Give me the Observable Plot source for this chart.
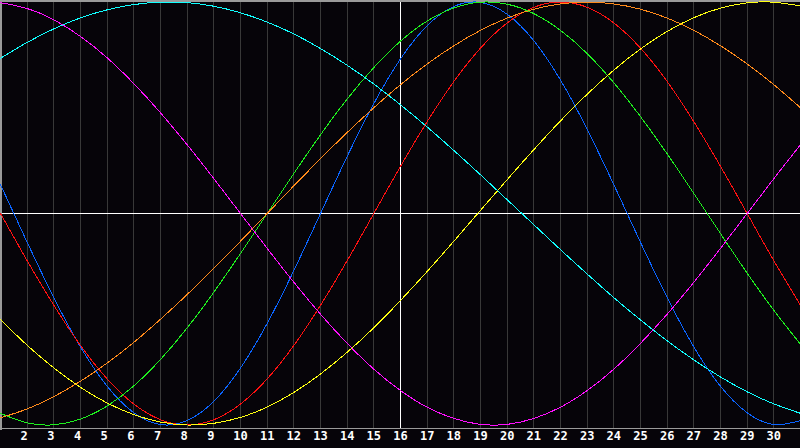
<!DOCTYPE html>
<html>
<head>
<meta charset="utf-8">
<script src="https://cdn.jsdelivr.net/npm/d3@7"></script>
<script src="https://cdn.jsdelivr.net/npm/@observablehq/plot@0.6"></script>
<style>
  html, body { margin: 0; padding: 0; background: #060409; }
  #chart svg { display: block; }
</style>
</head>
<body>
<div id="chart"></div>
<script>
// Days of the month shown on the x axis
const days = [1,2,3,4,5,6,7,8,9,10,11,12,13,14,15,16,17,18,19,20,21,22,23,24,25,26,27,28,29,30,31];
const dayLabels = [2,3,4,5,6,7,8,9,10,11,12,13,14,15,16,17,18,19,20,21,22,23,24,25,26,27,28,29,30];
const today = 16;

// Cycle values (-1 .. 1), one per day
const physical = [0.136,-0.136,-0.398,-0.631,-0.817,-0.942,-0.998,-0.979,-0.888,-0.731,-0.520,-0.270,0,0.270,0.520,0.731,0.888,0.979,0.998,0.942,0.817,0.631,0.398,0.136,-0.136,-0.398,-0.631,-0.817,-0.942,-0.998,-0.979];
const emotional = [0,-0.223,-0.434,-0.624,-0.782,-0.901,-0.975,-1,-0.975,-0.901,-0.782,-0.624,-0.434,-0.223,0,0.223,0.434,0.624,0.782,0.901,0.975,1,0.975,0.901,0.782,0.624,0.434,0.223,0,-0.223,-0.434];
const intellectual = [-0.945,-0.990,-0.999,-0.972,-0.910,-0.815,-0.690,-0.541,-0.372,-0.189,0,0.189,0.372,0.541,0.690,0.815,0.910,0.972,0.999,0.990,0.945,0.866,0.756,0.618,0.458,0.282,0.095,-0.095,-0.282,-0.458,-0.618];
const intuitive = [0.997,0.969,0.916,0.837,0.736,0.614,0.476,0.325,0.165,0,-0.165,-0.325,-0.476,-0.614,-0.736,-0.837,-0.916,-0.969,-0.997,-0.997,-0.969,-0.916,-0.837,-0.736,-0.614,-0.476,-0.325,-0.165,0,0.165,0.325];
const aesthetic = [-0.502,-0.623,-0.730,-0.822,-0.896,-0.951,-0.986,-1.000,-0.992,-0.964,-0.915,-0.846,-0.759,-0.656,-0.540,-0.411,-0.274,-0.131,0.015,0.160,0.302,0.438,0.564,0.678,0.778,0.861,0.926,0.971,0.996,0.999,0.981];
const awareness = [-0.966,-0.924,-0.866,-0.793,-0.707,-0.609,-0.5,-0.383,-0.259,-0.131,0,0.131,0.259,0.383,0.5,0.609,0.707,0.793,0.866,0.924,0.966,0.991,1,0.991,0.966,0.924,0.866,0.793,0.707,0.609,0.5];
const spiritual = [0.734,0.809,0.873,0.925,0.963,0.988,0.999,0.997,0.980,0.949,0.905,0.849,0.780,0.701,0.612,0.514,0.409,0.298,0.183,0.065,-0.053,-0.171,-0.286,-0.398,-0.503,-0.602,-0.692,-0.773,-0.843,-0.900,-0.945];

const seriesNames = ["physical","emotional","intellectual","intuitive","aesthetic","awareness","spiritual"];
const seriesValues = [physical, emotional, intellectual, intuitive, aesthetic, awareness, spiritual];
const seriesColors = ["#0a64ff","#ff1010","#1ef01e","#ff10ff","#ffff10","#ff8a1a","#10ffff"];

const rows = seriesNames.flatMap((name, i) =>
  days.map((d, j) => ({series: name, day: d, value: seriesValues[i][j]}))
);

const W = 800, H = 448;
const chart = Plot.plot({
  width: W,
  height: H,
  marginTop: 0,
  marginLeft: 0,
  marginRight: 0,
  marginBottom: 20,
  style: {background: "#060409", overflow: "visible"},
  x: {domain: [1, 31], range: [0, 800], axis: null},
  y: {domain: [-1, 1], range: [424.5, 1.5], axis: null},
  color: {domain: seriesNames, range: seriesColors},
  marks: [
    Plot.ruleX(dayLabels.filter(d => d !== today), {x: d => d, stroke: "#383838", strokeWidth: 1, shapeRendering: "crispEdges"}),
    Plot.ruleX([today], {x: d => d, stroke: "#ffffff", strokeWidth: 1, shapeRendering: "crispEdges"}),
    Plot.ruleY([0], {stroke: "#ffffff", strokeWidth: 1, shapeRendering: "crispEdges"}),
    Plot.frame({anchor: "top", stroke: "#9a9a9a", strokeWidth: 2, shapeRendering: "crispEdges"}),
    Plot.frame({anchor: "left", stroke: "#9a9a9a", strokeWidth: 2, shapeRendering: "crispEdges"}),
    Plot.frame({anchor: "bottom", stroke: "#9a9a9a", strokeWidth: 1.5, shapeRendering: "crispEdges"}),
    Plot.line(rows, {x: "day", y: "value", z: "series", stroke: "series", strokeWidth: 1, curve: "natural", shapeRendering: "crispEdges"}),
    Plot.text(dayLabels.filter(d => d < 10), {x: d => d, text: d => String(d), frameAnchor: "bottom", dy: 11, dx: -3, fill: "#ffffff", fontFamily: "DejaVu Sans Mono", fontWeight: "bold", fontSize: 12}),
    Plot.text(dayLabels.filter(d => d >= 10), {x: d => d, text: d => String(d), frameAnchor: "bottom", dy: 11, fill: "#ffffff", fontFamily: "DejaVu Sans Mono", fontWeight: "bold", fontSize: 12})
  ]
});
document.getElementById("chart").appendChild(chart);
</script>
</body>
</html>
